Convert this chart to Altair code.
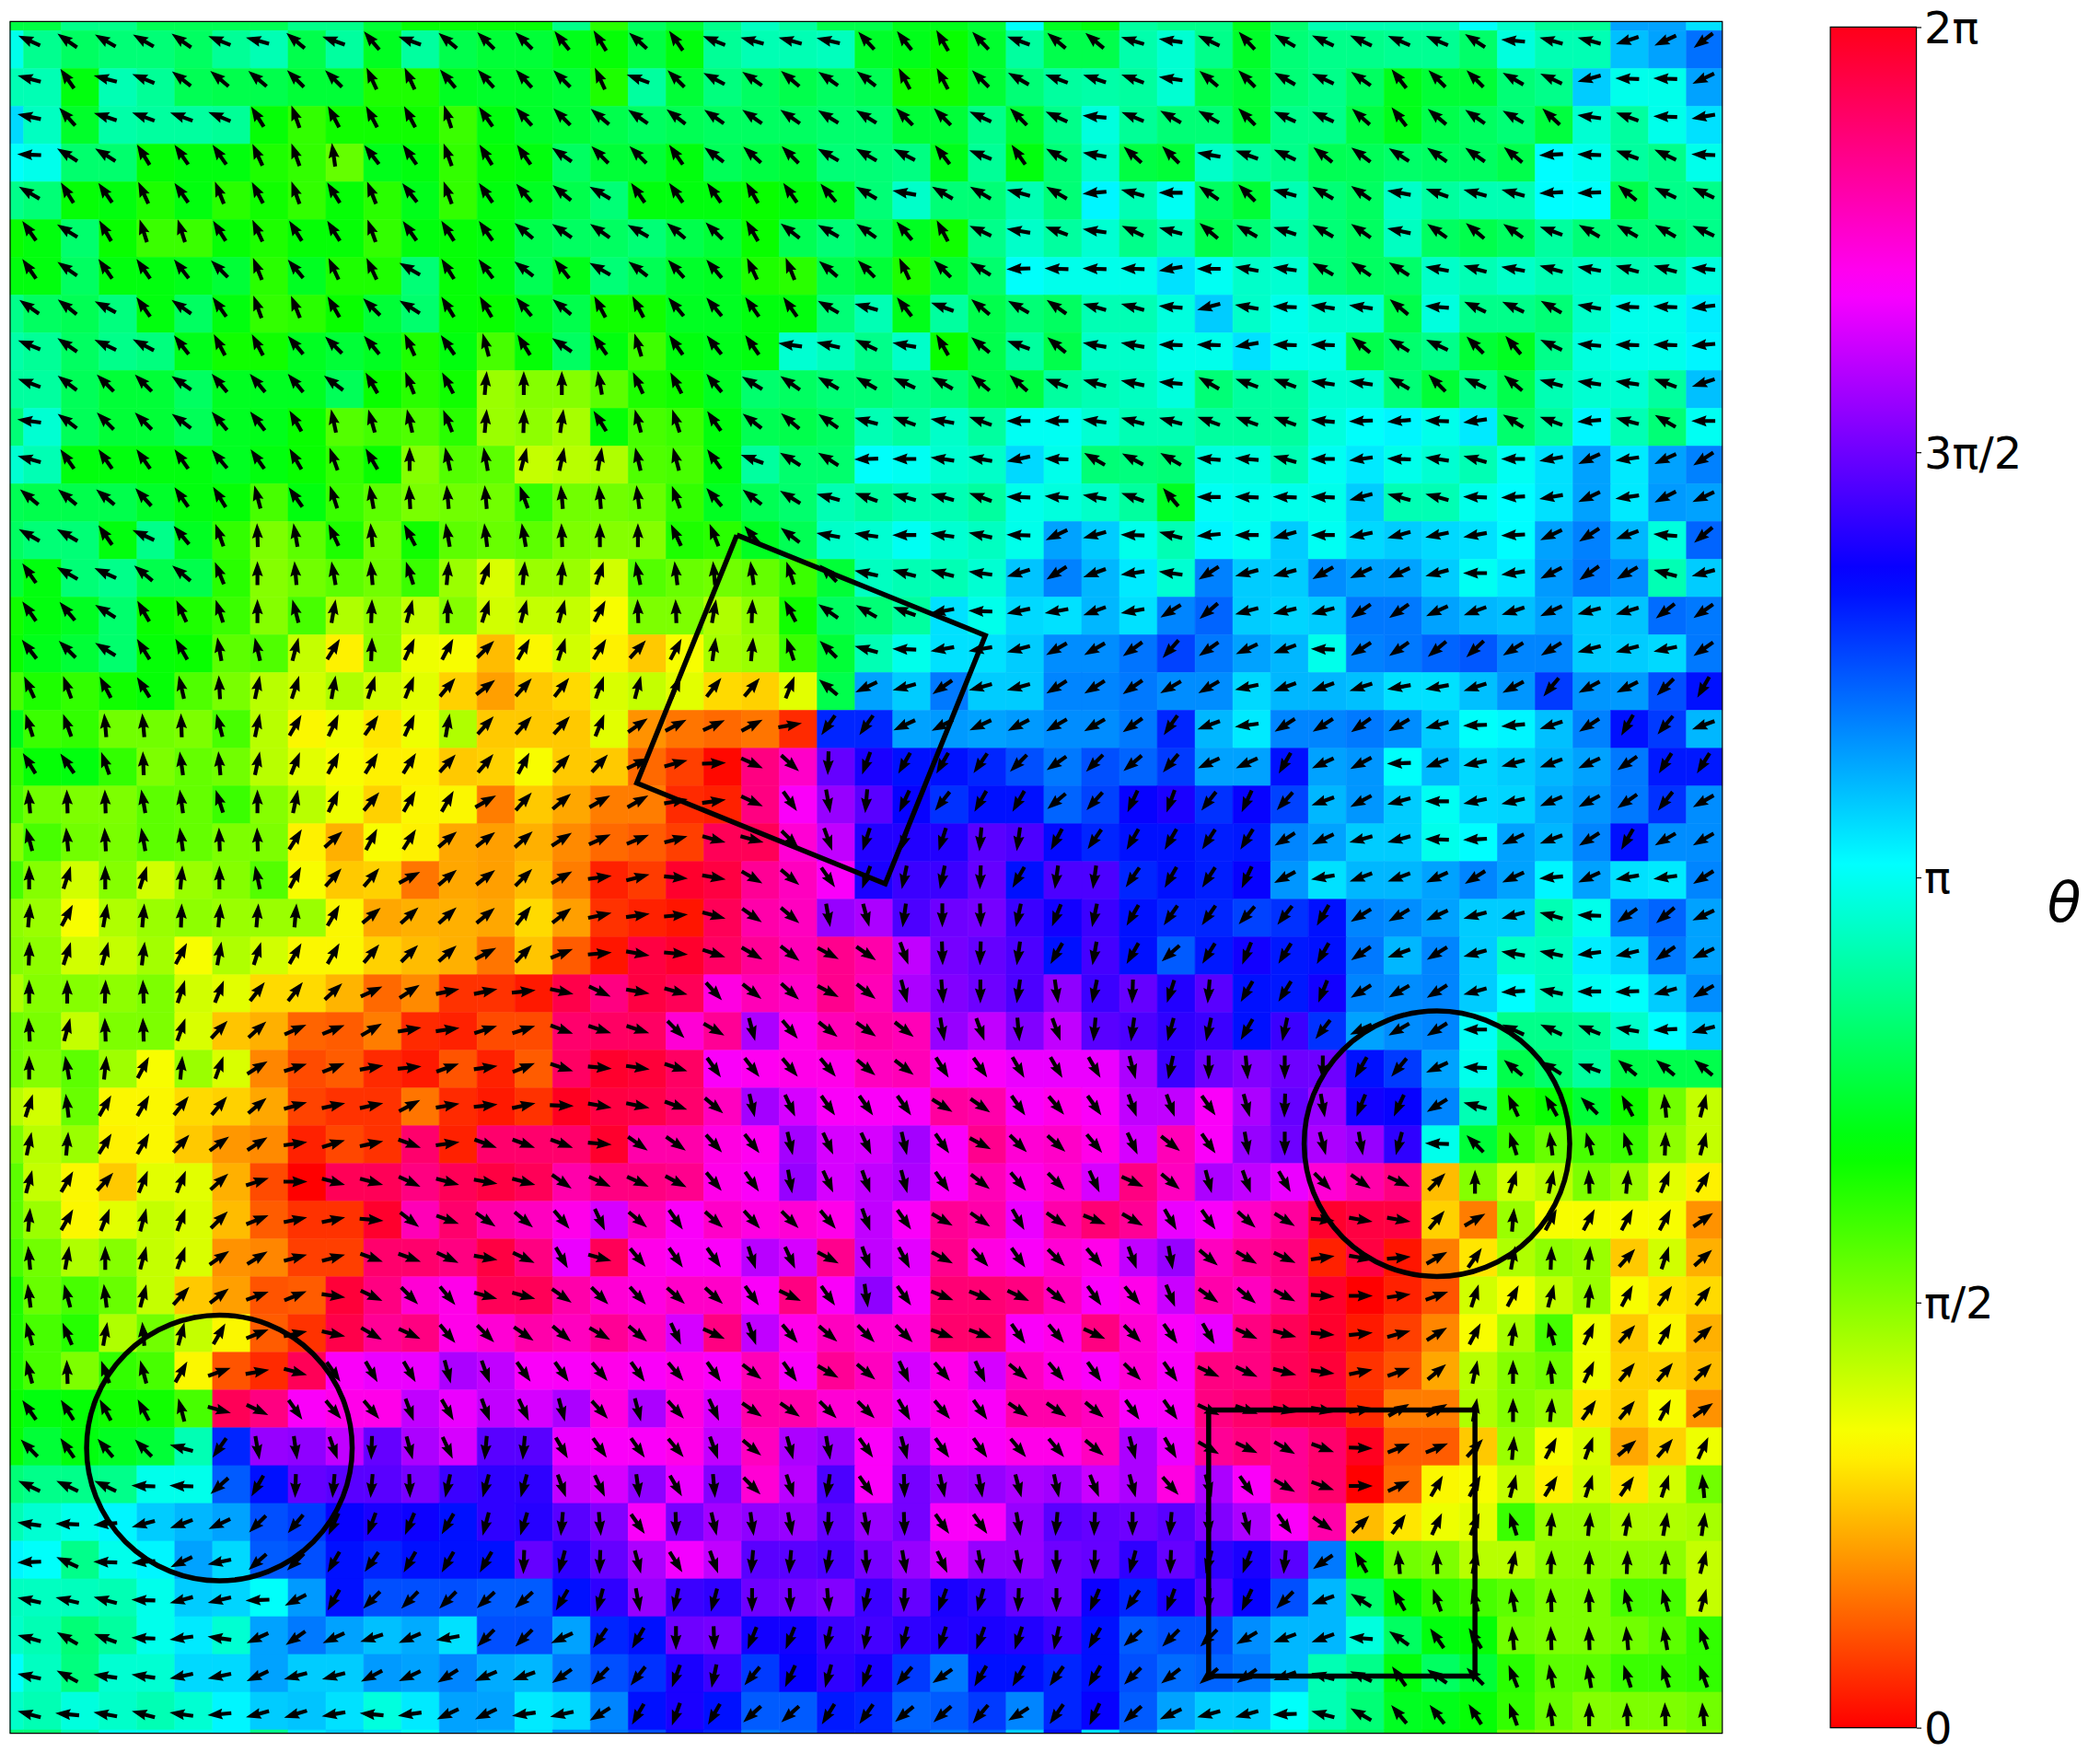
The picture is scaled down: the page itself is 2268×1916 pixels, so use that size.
import altair as alt
import pandas as pd

# theta in degrees, read per cell: blocks of 15 rows x 15 columns
b00 = [
[156,145,150,150,145,158,165,140,160,130,160,140,135,135,128],
[165,125,165,158,142,140,140,135,135,115,115,130,132,132,135],
[168,132,162,160,160,158,122,110,118,118,118,108,125,132,135],
[178,148,148,122,125,125,115,110,98,128,125,110,122,125,145],
[150,122,125,115,125,112,118,110,122,112,128,110,125,130,140],
[125,148,120,108,108,122,115,122,122,110,125,122,125,140,145],
[125,145,125,125,128,135,112,130,115,115,150,122,127,142,128],
[145,142,152,125,145,125,110,112,120,135,148,122,120,130,140],
[158,145,155,152,128,118,118,130,135,130,115,125,105,122,145],
[160,143,135,135,145,130,130,130,143,120,112,118,85,90,90],
[172,143,135,135,143,130,128,120,102,106,103,112,85,88,82],
[165,125,125,125,125,130,125,120,110,120,90,102,100,75,78],
[140,140,140,132,125,122,105,125,108,100,93,95,95,110,95],
[150,150,125,155,130,110,92,100,115,95,118,100,97,100,92],
[125,150,155,140,140,112,90,95,100,95,108,85,70,85,85],
]
b01 = [
[122,138,125,158,165,165,167,132,128,120,133,160,140,140,163],
[115,160,135,152,145,140,145,142,118,118,135,150,160,162,160],
[140,145,142,145,145,145,148,148,135,135,155,135,155,175,158],
[135,135,125,143,138,135,150,150,153,128,158,125,150,170,138],
[150,125,125,125,120,125,130,150,170,150,150,165,150,185,165],
[145,150,140,135,120,142,150,145,130,118,155,170,160,172,155],
[150,142,132,130,115,112,140,135,115,135,148,182,178,178,178],
[118,118,130,130,125,125,150,165,128,160,140,150,145,165,165],
[125,107,125,128,125,172,167,155,170,120,140,160,140,170,170],
[100,115,118,130,148,145,150,150,155,150,140,138,160,165,168],
[122,105,108,125,142,140,145,165,160,170,160,180,180,172,165],
[80,103,105,125,160,148,148,182,180,172,170,192,178,150,152],
[95,97,110,130,142,148,165,160,165,165,160,178,175,170,160],
[90,90,115,112,130,142,170,172,180,172,168,178,205,195,178],
[72,102,97,95,98,108,135,168,165,165,172,197,213,200,188],
]
b02 = [
[172,155,132,150,155,155,157,157,147,175,165,165,198,205,217],
[172,140,135,150,155,145,128,135,135,150,155,195,178,178,205],
[150,150,135,155,155,138,128,140,145,150,137,172,160,178,190],
[135,170,160,155,142,143,147,145,145,140,183,178,160,155,178],
[180,145,135,165,150,145,170,160,165,165,183,182,140,155,155],
[165,140,150,162,150,145,168,145,140,145,160,150,150,150,155],
[190,180,170,172,150,145,147,170,165,170,165,170,165,165,175],
[175,195,170,178,172,172,140,175,155,155,150,170,178,178,187],
[178,178,190,178,178,140,148,155,135,130,155,175,178,178,185],
[175,150,160,160,172,172,150,135,155,140,165,172,172,160,198],
[165,160,160,160,175,182,185,178,188,148,160,185,165,150,180],
[150,175,175,165,180,188,178,172,165,180,190,205,188,205,213],
[130,180,178,178,178,195,165,165,178,183,190,205,188,207,205],
[165,185,180,195,180,192,195,192,190,183,205,213,200,175,220],
[172,213,195,195,210,205,205,195,180,188,207,215,210,165,195],
]
b10 = [
[125,130,148,120,115,108,90,105,80,88,75,90,72,75,75],
[128,135,148,122,120,100,103,75,58,88,65,62,45,60,72],
[115,110,118,122,103,93,78,72,80,72,68,50,38,48,52],
[108,110,95,95,92,105,78,60,65,55,65,80,48,48,48],
[122,125,110,92,98,95,78,68,62,58,58,48,50,62,48],
[95,92,92,100,98,108,90,78,65,50,60,60,30,48,40],
[105,95,93,100,98,92,92,58,42,62,58,40,38,42,33],
[90,72,90,72,85,90,102,62,48,50,28,40,38,45,30],
[85,62,80,85,88,85,85,85,60,40,42,42,40,52,38],
[88,72,75,83,62,80,72,60,60,50,45,42,28,47,22],
[90,90,88,92,72,68,52,52,43,25,33,12,12,6,348],
[93,75,92,92,70,47,42,24,22,30,10,8,18,18,340],
[90,100,84,62,85,70,32,18,22,10,6,20,8,22,342],
[72,97,60,60,52,50,40,16,12,12,28,10,6,12,358],
[78,85,58,60,48,36,33,8,17,12,340,8,340,340,340],
]
b11 = [
[62,92,92,80,88,118,145,150,160,190,178,192,190,200,190],
[58,48,62,82,85,108,135,165,178,190,190,195,210,210,216],
[70,75,68,52,50,68,140,205,195,215,195,195,212,212,215],
[68,35,28,25,28,10,235,235,205,207,205,207,210,210,215],
[48,25,15,2,335,318,268,250,240,240,235,225,215,225,220],
[30,30,10,8,335,305,280,265,245,232,240,240,220,228,245],
[25,22,15,345,345,315,290,252,252,252,265,262,242,235,240],
[8,14,355,350,330,320,305,250,258,258,268,240,262,262,235],
[12,8,5,345,325,320,280,285,262,270,272,258,248,258,240],
[5,350,355,342,330,322,332,325,290,272,268,262,240,260,240],
[335,350,345,312,322,318,332,322,285,275,270,262,278,258,268],
[342,342,315,330,285,310,322,325,322,280,290,275,290,265,262],
[355,352,342,305,308,310,310,320,322,302,305,300,300,300,285],
[350,348,340,320,283,295,305,305,305,328,325,305,310,305,290],
[355,325,325,312,308,283,295,295,283,305,332,315,318,310,295],
]
b12 = [
[212,220,195,193,195,215,215,205,200,198,205,195,197,218,215],
[228,215,205,200,178,213,215,220,223,212,212,195,195,192,215],
[210,210,192,200,200,198,190,190,198,208,230,208,207,225,240],
[235,200,188,212,212,215,210,195,182,185,198,213,240,230,200],
[230,205,205,240,205,208,182,200,192,195,200,205,215,238,238],
[250,232,245,228,200,208,195,180,192,193,203,208,215,232,210],
[240,237,238,212,205,195,195,178,183,205,200,212,240,210,210],
[240,237,245,208,190,200,200,205,212,205,185,205,190,188,212],
[235,235,228,232,240,212,210,205,195,195,165,178,215,220,205],
[222,238,248,238,240,215,200,212,195,170,168,187,193,215,205],
[252,265,240,238,248,212,210,212,195,183,168,180,182,195,210],
[255,258,240,258,232,205,210,212,180,155,155,158,170,183,195],
[258,270,275,270,270,240,230,205,178,140,148,160,140,140,140],
[290,305,285,268,280,248,245,212,165,115,120,135,118,95,75],
[322,305,280,270,285,280,255,178,135,108,97,105,108,88,75],
]
b20 = [
[75,60,48,68,68,42,18,0,345,345,335,345,350,345,325],
[85,60,68,75,70,45,22,12,12,355,322,340,325,320,310],
[95,80,90,75,70,35,32,15,15,340,340,335,350,335,300],
[97,105,97,75,48,38,20,22,352,335,315,310,345,345,325],
[105,113,80,95,75,60,22,12,348,330,335,310,315,325,320],
[105,92,110,105,60,20,10,345,305,300,300,285,290,305,305],
[125,122,118,118,105,345,335,305,310,310,290,300,290,295,285],
[135,125,130,135,165,235,280,278,290,268,285,295,265,265,300],
[155,155,155,178,178,222,240,268,265,265,272,258,255,255,290],
[172,178,185,195,200,205,225,230,245,250,247,240,255,253,265],
[182,155,178,185,205,192,222,225,240,235,240,240,240,268,255],
[168,167,165,178,195,193,182,207,240,225,225,225,222,222,240],
[165,150,160,178,188,172,205,215,205,198,203,190,225,225,205],
[168,152,172,172,192,192,205,195,195,207,205,212,203,200,215],
[165,175,170,165,172,185,195,197,190,175,188,205,205,188,192],
]
b21 = [
[335,335,332,310,305,280,295,290,285,305,322,310,315,295,335],
[295,320,305,318,312,315,310,290,305,330,325,300,325,338,330],
[345,310,305,305,288,295,332,290,298,332,312,305,315,310,290],
[315,312,318,318,305,335,305,278,305,338,338,335,320,305,310],
[330,320,295,335,290,310,320,315,315,340,340,305,310,335,315],
[310,305,310,305,322,305,330,320,295,310,295,320,310,305,315],
[312,285,312,295,325,325,315,315,300,310,305,325,325,320,305],
[305,305,310,290,320,285,280,305,285,305,305,310,310,320,285],
[295,278,300,275,315,288,262,305,272,282,280,285,282,292,285],
[275,305,272,283,278,280,268,280,272,305,305,280,265,268,270],
[268,285,302,290,265,265,262,272,280,295,280,280,270,268,255],
[255,280,258,255,270,272,275,258,268,250,255,268,270,247,235],
[235,240,270,272,248,248,258,260,255,252,250,252,258,240,222],
[225,232,250,258,230,245,255,250,230,215,240,240,235,240,225],
[212,240,250,240,222,222,238,235,220,222,230,212,235,245,222],
]
b22 = [
[320,285,290,300,315,325,335,45,90,72,78,92,85,68,58],
[300,305,318,328,355,350,350,50,30,85,62,62,62,62,35],
[280,320,330,335,8,350,5,30,55,80,88,85,48,72,42],
[292,325,320,332,355,0,8,20,72,62,75,85,62,55,52],
[305,300,335,345,355,6,15,32,62,82,105,65,48,60,42],
[305,335,335,345,352,12,20,40,78,90,95,65,50,50,45],
[305,335,340,348,350,10,30,30,80,90,85,55,50,62,35],
[300,330,335,330,340,358,22,22,48,85,62,70,40,50,65],
[312,285,305,330,340,0,25,60,62,75,58,72,55,72,95],
[265,275,285,305,325,45,55,65,68,108,85,85,80,80,82],
[268,255,250,265,215,120,95,92,78,78,88,88,88,88,75],
[250,265,245,225,200,148,120,110,105,100,92,92,105,105,75],
[225,225,210,200,200,175,145,125,122,95,92,92,95,100,110],
[218,220,215,200,165,155,125,145,135,112,100,100,108,108,110],
[205,195,195,182,165,150,130,128,122,110,97,90,92,92,95],
]
# clipped strips of cells at the plot's edges
left_strip = [178,165,192,182,155,120,125,155,162,160,150,172,142,145,135,
              118,120,105,128,110,105,90,105,88,90,80,95,95,78,92,
              100,100,105,115,115,115,120,122,150,165,185,168,170,182,170]
top_strip = [138,138,155,155,142,142,142,142,155,155,135,122,122,122,122,155,
             112,145,135,155,168,160,140,140,128,128,135,182,130,125,160,
             155,155,128,148,165,165,165,165,182,170,158,158,205,205,190]
bottom_strip = [150,150,165,178,178,178,185,155,190,195,190,180,205,200,190,210,
                215,225,240,235,215,220,235,235,222,215,222,195,240,190,215,
                185,170,165,170,150,145,130,125,122,95,90,88,80,80,90]

cmap_pos = [0, 57.14, 62.86, 120, 125.71, 182.86, 240, 245.71, 302.86, 308.57, 360]
cmap_hex = ["#ff0000", "#ffef00", "#f7ff00", "#08ff00", "#00ff10", "#00ffff",
            "#0010ff", "#0800ff", "#f700ff", "#ff00ef", "#ff0018"]
bar_ticks = [0, 90, 180, 270, 360]

# overlay outlines, in grid units
tilted_x = [18.6, 25.13, 22.5, 15.97, 18.6]
tilted_y = [13.0, 15.64, 22.17, 19.52, 13.0]
square_x = [31, 38, 38, 31, 31]
square_y = [36, 36, 43, 43, 36]
circle_x = [37, 5]
circle_y = [29, 37]

grid = []
for blocks in ((b00, b01, b02), (b10, b11, b12), (b20, b21, b22)):
    for a, b, c in zip(*blocks):
        assert len(a) == len(b) == len(c) == 15
        grid.append(a + b + c)
assert len(grid) == 45 and len(left_strip) == 45
assert len(top_strip) == 46 and len(bottom_strip) == 46

LO, HI = -0.5, 44.5
xs = [LO] + [-0.145 + 0.9932 * k for k in range(45)] + [HI]
ys = [LO] + [-0.259 + 0.9927 * k for k in range(46)] + [HI]

full = [top_strip] + [[left_strip[r]] + grid[r] for r in range(45)] + [bottom_strip]
cells = pd.DataFrame([
    {"x0": xs[c], "x1": xs[c + 1], "y0": ys[r], "y1": ys[r + 1], "theta": full[r][c]}
    for r in range(47) for c in range(46)
])
arrows = pd.DataFrame([
    {"x": c, "y": r, "rot": (90 - grid[r][c]) % 360}
    for r in range(45) for c in range(45)
])

sx = alt.Scale(domain=[LO, HI], nice=False, zero=False)
sy = alt.Scale(domain=[HI, LO], nice=False, zero=False)
X = lambda f: alt.X(f, scale=sx, axis=None)
Y = lambda f: alt.Y(f, scale=sy, axis=None)
cscale = alt.Scale(domain=cmap_pos, range=cmap_hex, interpolate="rgb")

heat = alt.Chart(cells).mark_rect(strokeWidth=0.6).encode(
    x=X("x0:Q"), x2="x1:Q", y=Y("y0:Q"), y2="y1:Q",
    color=alt.Color("theta:Q", scale=cscale, legend=None),
    stroke=alt.Stroke("theta:Q", scale=cscale, legend=None),
)

ARROW = "M-0.16 1 L-0.16 0.15 L-0.46 0.27 L0 -1 L0.46 0.27 L0.16 0.15 L0.16 1 Z"
quiver = alt.Chart(arrows).mark_point(
    shape=ARROW, size=676, filled=True, color="black", opacity=1, strokeWidth=0
).encode(x=X("x:Q"), y=Y("y:Q"), angle=alt.Angle("rot:Q", scale=None))

def outline(xv, yv, name):
    d = pd.DataFrame({"x": xv, "y": yv, "i": range(len(xv))})
    return alt.Chart(d).mark_line(color="black", strokeWidth=5.5, strokeJoin="miter", clip=False).encode(
        x=X("x:Q"), y=Y("y:Q"), order="i:Q"
    )

tilted = outline(tilted_x, tilted_y, "tilted")
square = outline(square_x, square_y, "square")
circles = alt.Chart(pd.DataFrame({"x": circle_x, "y": circle_y})).mark_point(
    shape="circle", size=83300, filled=False, color="black", strokeWidth=5.5, opacity=1
).encode(x=X("x:Q"), y=Y("y:Q"))

frame = alt.Chart(pd.DataFrame({"a": [LO], "b": [HI]})).mark_rect(
    fill=None, stroke="black", strokeWidth=1.2
).encode(x=X("a:Q"), x2="b:Q", y=Y("a:Q"), y2="b:Q")

main = alt.layer(heat, quiver, tilted, square, circles, frame).properties(width=1860.6, height=1860)

grad = alt.Gradient(
    gradient="linear",
    stops=[alt.GradientStop(offset=p / 360, color=h) for p, h in zip(cmap_pos, cmap_hex)],
    x1=0, x2=0, y1=1, y2=0,
)
label_expr = ("datum.value == 0 ? '0' : datum.value == 90 ? 'π/2' : datum.value == 180 ? 'π' "
              ": datum.value == 270 ? '3π/2' : '2π'")
bar = alt.Chart(pd.DataFrame({"lo": [0], "hi": [360]})).mark_rect(
    fill=grad, stroke="black", strokeWidth=1.2
).encode(
    x=alt.value(0), x2=alt.value(93.5),
    y=alt.Y("lo:Q", scale=alt.Scale(domain=[-1.169, 361.169], nice=False, zero=False),
            axis=alt.Axis(orient="right", values=bar_ticks, labelExpr=label_expr, grid=False,
                          domain=False, ticks=True, tickSize=5, tickWidth=1.2, tickColor="black",
                          labelFont="DejaVu Sans", labelFontSize=48, labelColor="black",
                          labelPadding=3, labelOffset=3, labelOverlap=False, labelFlush=False,
                          title="θ", titleAngle=0, titleFont="DejaVu Sans", titleFontSize=60,
                          titleFontStyle="italic", titleFontWeight="normal", titleColor="black",
                          titleAlign="center", titleBaseline="middle", titleX=160, titleY=960)),
    y2="hi:Q",
).properties(width=93.5, height=1860)

chart = alt.hconcat(main, bar, spacing=115).properties(
    padding={"left": 2, "top": 0, "right": 0, "bottom": 6}
).configure_view(stroke=None)

chart.save("out.html", embed_options={"renderer": "svg", "actions": False})
